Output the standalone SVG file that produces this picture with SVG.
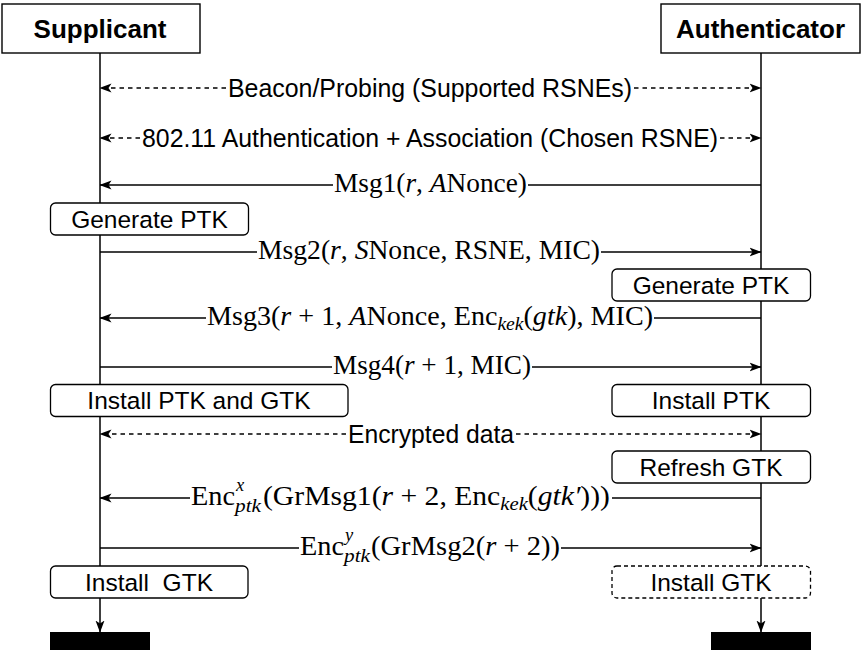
<svg xmlns="http://www.w3.org/2000/svg" width="863" height="650" viewBox="0 0 863 650">
<style>
.hdr{fill:#fff;stroke:#000;stroke-width:1.4}
.box{fill:#fff;stroke:#000;stroke-width:1.3}
.dbox{fill:#fff;stroke:#000;stroke-width:1.3;stroke-dasharray:4 3}
.life{stroke:#000;stroke-width:1.5;fill:none}
.msg{stroke:#000;stroke-width:1.5;fill:none}
.dash{stroke:#000;stroke-width:1.5;fill:none;stroke-dasharray:4.5 4}
.ht{font-family:"Liberation Sans",Arial,sans-serif;font-weight:bold;font-size:26px;text-anchor:middle;fill:#000}
.bt{font-family:"Liberation Sans",Arial,sans-serif;font-size:24.5px;text-anchor:middle;fill:#000}
.st{font-family:"Liberation Sans",Arial,sans-serif;font-size:25px;text-anchor:middle;fill:#000}
.mt{font-family:"Liberation Serif","Times New Roman",serif;font-size:26.5px;fill:#000}
.sm{font-family:"Liberation Serif","Times New Roman",serif;font-size:18.5px;font-style:italic;fill:#000}
.i{font-style:italic}
</style>
<defs>
<marker id="ah" viewBox="0 0 12 10" refX="11.5" refY="5" markerWidth="12" markerHeight="10" orient="auto" markerUnits="userSpaceOnUse">
<path d="M0,0.5 L12,5 L0,9.5 L3,5 Z" fill="#000"/>
</marker>
</defs>
<rect width="863" height="650" fill="#fff"/>

<g id="lifelines">
<line class="life" x1="100" y1="53" x2="100" y2="632" marker-end="url(#ah)"/>
<line class="life" x1="761" y1="53" x2="761" y2="632" marker-end="url(#ah)"/>
</g>

<g id="connectors">
<g id="m-beacon">
<line class="dash" x1="226" y1="88" x2="100" y2="88" marker-end="url(#ah)"/>
<line class="dash" x1="634" y1="88" x2="761" y2="88" marker-end="url(#ah)"/>
<text class="st" x="430" y="96.5" textLength="404" lengthAdjust="spacingAndGlyphs">Beacon/Probing (Supported RSNEs)</text>
</g>
<g id="m-assoc">
<line class="dash" x1="140" y1="138" x2="100" y2="138" marker-end="url(#ah)"/>
<line class="dash" x1="720" y1="138" x2="761" y2="138" marker-end="url(#ah)"/>
<text class="st" x="430" y="146.5" textLength="576" lengthAdjust="spacingAndGlyphs">802.11 Authentication + Association (Chosen RSNE)</text>
</g>
<g id="m-msg1">
<line class="msg" x1="761" y1="185" x2="528" y2="185"/>
<line class="msg" x1="333" y1="185" x2="100" y2="185" marker-end="url(#ah)"/>
<text class="mt" x="334" y="192" textLength="193" lengthAdjust="spacingAndGlyphs">Msg1(<tspan class="i">r</tspan>, <tspan class="i">A</tspan>Nonce)</text>
</g>
<g id="m-msg2">
<line class="msg" x1="100" y1="252" x2="257" y2="252"/>
<line class="msg" x1="601" y1="252" x2="761" y2="252" marker-end="url(#ah)"/>
<text class="mt" x="258" y="259" textLength="342" lengthAdjust="spacingAndGlyphs">Msg2(<tspan class="i">r</tspan>, <tspan class="i">S</tspan>Nonce, RSNE, MIC)</text>
</g>
<g id="m-msg3">
<line class="msg" x1="761" y1="318" x2="654" y2="318"/>
<line class="msg" x1="206" y1="318" x2="100" y2="318" marker-end="url(#ah)"/>
<text class="mt" x="207" y="325" textLength="446" lengthAdjust="spacingAndGlyphs">Msg3(<tspan class="i">r</tspan> + 1, <tspan class="i">A</tspan>Nonce, Enc<tspan class="sm" dy="5">kek</tspan><tspan dy="-5">(</tspan><tspan class="i">gtk</tspan>), MIC)</text>
</g>
<g id="m-msg4">
<line class="msg" x1="100" y1="367" x2="332" y2="367"/>
<line class="msg" x1="532" y1="367" x2="761" y2="367" marker-end="url(#ah)"/>
<text class="mt" x="333" y="374" textLength="198" lengthAdjust="spacingAndGlyphs">Msg4(<tspan class="i">r</tspan> + 1, MIC)</text>
</g>
<g id="m-data">
<line class="dash" x1="346" y1="434" x2="100" y2="434" marker-end="url(#ah)"/>
<line class="dash" x1="516" y1="434" x2="761" y2="434" marker-end="url(#ah)"/>
<text class="st" x="431" y="442.5" textLength="166" lengthAdjust="spacingAndGlyphs">Encrypted data</text>
</g>
<g id="m-grmsg1">
<line class="msg" x1="761" y1="498" x2="612" y2="498"/>
<line class="msg" x1="190" y1="498" x2="100" y2="498" marker-end="url(#ah)"/>
<text class="mt" x="191" y="505" textLength="44" lengthAdjust="spacingAndGlyphs">Enc</text>
<text class="sm" x="236" y="491">x</text>
<text class="sm" x="235" y="512" textLength="26" lengthAdjust="spacingAndGlyphs">ptk</text>
<text class="mt" x="263" y="505" textLength="347" lengthAdjust="spacingAndGlyphs">(GrMsg1(<tspan class="i">r</tspan> + 2, Enc<tspan class="sm" dy="5">kek</tspan><tspan dy="-5">(</tspan><tspan class="i">gtk′</tspan>)))</text>
</g>
<g id="m-grmsg2">
<line class="msg" x1="100" y1="548" x2="299" y2="548"/>
<line class="msg" x1="561" y1="548" x2="761" y2="548" marker-end="url(#ah)"/>
<text class="mt" x="300" y="555" textLength="44" lengthAdjust="spacingAndGlyphs">Enc</text>
<text class="sm" x="345" y="541">y</text>
<text class="sm" x="344" y="562" textLength="26" lengthAdjust="spacingAndGlyphs">ptk</text>
<text class="mt" x="371" y="555" textLength="189" lengthAdjust="spacingAndGlyphs">(GrMsg2(<tspan class="i">r</tspan> + 2))</text>
</g>
</g>

<g id="supplicant">
<rect class="hdr" x="2" y="4" width="198" height="49"/>
<text class="ht" x="100" y="37.5">Supplicant</text>
</g>
<g id="authenticator">
<rect class="hdr" x="661" y="4" width="199" height="49"/>
<text class="ht" x="760.5" y="37.5">Authenticator</text>
</g>

<g id="s-genptk">
<rect class="box" x="50.5" y="203" width="198" height="32" rx="5"/>
<text class="bt" x="149.5" y="227.5">Generate PTK</text>
</g>
<g id="a-genptk">
<rect class="box" x="612" y="269" width="198.5" height="32" rx="5"/>
<text class="bt" x="711" y="293.5">Generate PTK</text>
</g>
<g id="s-install">
<rect class="box" x="50.5" y="384.5" width="297.5" height="32" rx="5"/>
<text class="bt" x="199" y="409">Install PTK and GTK</text>
</g>
<g id="a-install">
<rect class="box" x="612" y="384.5" width="198.5" height="32" rx="5"/>
<text class="bt" x="711" y="409">Install PTK</text>
</g>
<g id="a-refresh">
<rect class="box" x="612" y="451" width="198.5" height="32" rx="5"/>
<text class="bt" x="711" y="475.5">Refresh GTK</text>
</g>
<g id="s-installgtk">
<rect class="box" x="50.5" y="566" width="197.5" height="32" rx="5"/>
<text class="bt" x="149" y="590.5" xml:space="preserve">Install  GTK</text>
</g>
<g id="a-installgtk">
<rect class="dbox" x="612" y="566" width="198.5" height="32" rx="5"/>
<text class="bt" x="711" y="590.5">Install GTK</text>
</g>

<g id="s-end">
<rect x="50" y="632" width="100" height="18" fill="#000"/>
</g>
<g id="a-end">
<rect x="711" y="632" width="100" height="18" fill="#000"/>
</g>
</svg>
